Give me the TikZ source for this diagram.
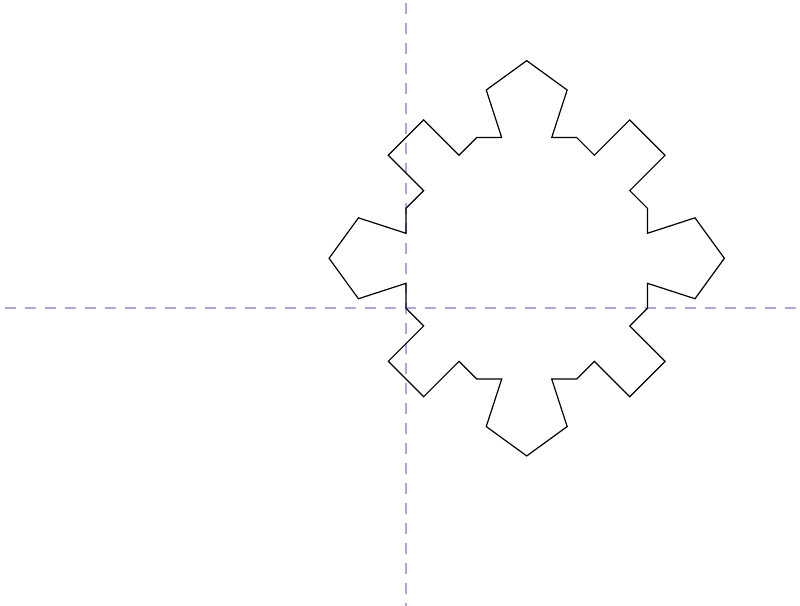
\documentclass[tikz,border=0pt]{standalone}
\definecolor{axiscol}{RGB}{168,166,228}
\begin{document}
\begin{tikzpicture}[x=0.75pt,y=0.75pt,
  axisline/.style={draw=axiscol,line width=1.5pt,dash pattern=on 8.2pt off 6.8pt},
  outline/.style={draw=black,line width=0.9pt,line join=miter}]
\useasboundingbox[fill=white] (-406,-297.7) rectangle (394,308.3);
\draw[axisline,dash phase=-3.5pt] (-406,0) -- (394,0);
\draw[axisline,dash phase=-2pt] (0,308.3) -- (0,-297.7);
\coordinate (o) at (0,0);
\draw[outline] (o)
  -- ++(-45:25) -- ++(-135:50) -- ++(-45:50) -- ++(45:50) -- ++(-45:25)
  -- ++(0:25) -- ++(-108:50) -- ++(-36:50) -- ++(36:50) -- ++(108:50) -- ++(0:25)
  -- ++(45:25) -- ++(-45:50) -- ++(45:50) -- ++(135:50) -- ++(45:25)
  -- ++(90:25) -- ++(-18:50) -- ++(54:50) -- ++(126:50) -- ++(198:50) -- ++(90:25)
  -- ++(135:25) -- ++(45:50) -- ++(135:50) -- ++(225:50) -- ++(135:25)
  -- ++(180:25) -- ++(72:50) -- ++(144:50) -- ++(216:50) -- ++(288:50) -- ++(180:25)
  -- ++(225:25) -- ++(135:50) -- ++(225:50) -- ++(315:50) -- ++(225:25)
  -- ++(270:25) -- ++(162:50) -- ++(234:50) -- ++(306:50) -- ++(18:50) -- ++(270:25)
  -- cycle;
\end{tikzpicture}
\end{document}
